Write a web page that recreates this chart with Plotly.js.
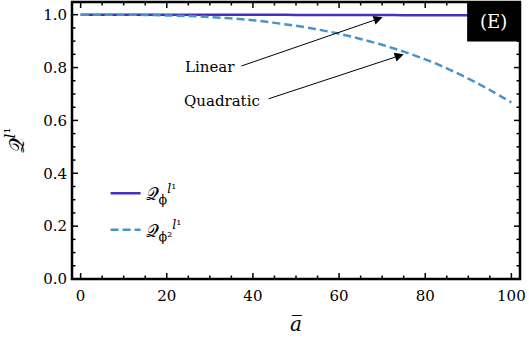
<!DOCTYPE html>
<html>
<head>
<meta charset="utf-8">
<script src="https://cdn.plot.ly/plotly-3.0.1.min.js"></script>
<style>
  body { margin: 0; padding: 0; background: #fff; }
  #plot { width: 529px; height: 344px; }
</style>
</head>
<body>
<div id="plot"></div>
<script>
// values
const aBar = [0, 5, 10, 15, 20, 25, 30, 35, 40, 45, 50, 55, 60, 65, 70, 75, 80, 85, 90, 95, 100];
const linearQ = [1, 1, 1, 1, 1, 1, 1, 1, 1, 1, 0.999, 0.999, 0.999, 0.999, 0.999, 0.998, 0.998, 0.998, 0.998, 0.997, 0.997];
const quadQ = [1.0, 1.0, 1.0, 0.999, 0.997, 0.995, 0.991, 0.986, 0.979, 0.969, 0.958, 0.944, 0.928, 0.908, 0.886, 0.860, 0.831, 0.797, 0.758, 0.715, 0.668];

// tick positions
const xMajor = [0, 20, 40, 60, 80, 100];
const xMinor = [5, 10, 15, 25, 30, 35, 45, 50, 55, 65, 70, 75, 85, 90, 95];
const yMajor = [0.2, 0.4, 0.6, 0.8, 1.0];
const yMinor = [0.05, 0.1, 0.15, 0.25, 0.3, 0.35, 0.45, 0.5, 0.55, 0.65, 0.7, 0.75, 0.85, 0.9, 0.95];

const serif = "DejaVu Serif";

let traceLinear = {
    x: aBar,
    y: linearQ,
    type: "scatter",
    mode: "lines",
    name: "𝒬<sub>ϕ</sub><sup><i>l</i>¹</sup>",
    legendgroup: "a",
    line: { color: "#4232bd", width: 2.5, shape: "spline" }
};

let traceQuad = {
    x: aBar,
    y: quadQ,
    type: "scatter",
    mode: "lines",
    name: "𝒬<sub>ϕ²</sub><sup><i>l</i>¹</sup>",
    legendgroup: "b",
    line: { color: "#4a93c9", width: 2.5, dash: "8px,4px", shape: "spline" }
};

// inward ticks on all four sides, drawn as pixel-sized shapes
let tickShapes = [];
function xTicks(list, len) {
    list.forEach(v => {
        tickShapes.push({ type: "line", xref: "x", yref: "paper", ysizemode: "pixel", yanchor: 0,
            x0: v, x1: v, y0: 0, y1: len, line: { color: "black", width: 1.5 } });
        tickShapes.push({ type: "line", xref: "x", yref: "paper", ysizemode: "pixel", yanchor: 1,
            x0: v, x1: v, y0: 0, y1: -len, line: { color: "black", width: 1.5 } });
    });
}
function yTicks(list, len) {
    list.forEach(v => {
        tickShapes.push({ type: "line", xref: "paper", yref: "y", xsizemode: "pixel", xanchor: 0,
            y0: v, y1: v, x0: 0, x1: len, line: { color: "black", width: 1.5 } });
        tickShapes.push({ type: "line", xref: "paper", yref: "y", xsizemode: "pixel", xanchor: 1,
            y0: v, y1: v, x0: 0, x1: -len, line: { color: "black", width: 1.5 } });
    });
}
xTicks(xMajor, 6);
xTicks(xMinor, 3.5);
yTicks(yMajor, 6);
yTicks(yMinor, 3.5);

let axisStyle = {
    showline: false,
    ticks: "",
    showgrid: false,
    zeroline: false,
    tickfont: { family: serif, size: 15, color: "black" }
};

let layout = {
    width: 529,
    height: 344,
    margin: { l: 72, r: 9, t: 2, b: 65 },
    paper_bgcolor: "white",
    plot_bgcolor: "white",
    font: { family: serif, color: "black", size: 15 },
    showlegend: true,
    legend: {
        x: 0.075, y: 0.375, xanchor: "left", yanchor: "top",
        bgcolor: "rgba(0,0,0,0)",
        font: { family: serif, size: 18, color: "black" },
        tracegroupgap: 10
    },
    xaxis: Object.assign({}, axisStyle, {
        range: [-2, 102],
        tickmode: "array",
        tickvals: xMajor,
        ticklabelstandoff: 6,
        title: { text: "<i>a̅</i>", font: { family: serif, size: 20, color: "black" }, standoff: 12 }
    }),
    yaxis: Object.assign({}, axisStyle, {
        range: [0, 1.048],
        tickmode: "array",
        tickvals: [0].concat(yMajor),
        tickformat: ".1f",
        ticklabelstandoff: 4,
        title: { text: "𝒬<sup><i>l</i>¹</sup>", font: { family: serif, size: 21, color: "black" }, standoff: 12 }
    }),
    shapes: [
        { type: "rect", xref: "paper", yref: "paper", x0: 0.882, x1: 1, y0: 0.857, y1: 1,
          fillcolor: "black", line: { width: 0 }, layer: "above" },
        { type: "rect", xref: "paper", yref: "paper", x0: 0, x1: 1, y0: 0, y1: 1,
          line: { color: "black", width: 2.5 }, layer: "above" }
    ].concat(tickShapes),
    annotations: [
        { xref: "paper", yref: "paper", x: 0.941, y: 0.928, xanchor: "center", yanchor: "middle",
          text: "(E)", showarrow: false, font: { family: serif, size: 18, color: "white" } },
        { x: 30.1, y: 0.801, text: "Linear", showarrow: false,
          font: { family: serif, size: 15, color: "black" } },
        { x: 32.9, y: 0.672, text: "Quadratic", showarrow: false,
          font: { family: serif, size: 15, color: "black" } },
        { x: 70.1, y: 0.990, ax: 37.0, ay: 0.804, axref: "x", ayref: "y", text: "",
          showarrow: true, arrowhead: 2, arrowsize: 1.8, arrowwidth: 1, arrowcolor: "black" },
        { x: 75.0, y: 0.850, ax: 43.3, ay: 0.680, axref: "x", ayref: "y", text: "",
          showarrow: true, arrowhead: 2, arrowsize: 1.8, arrowwidth: 1, arrowcolor: "black" }
    ]
};

Plotly.newPlot("plot", [traceLinear, traceQuad], layout, { displayModeBar: false, staticPlot: true });
</script>
</body>
</html>
